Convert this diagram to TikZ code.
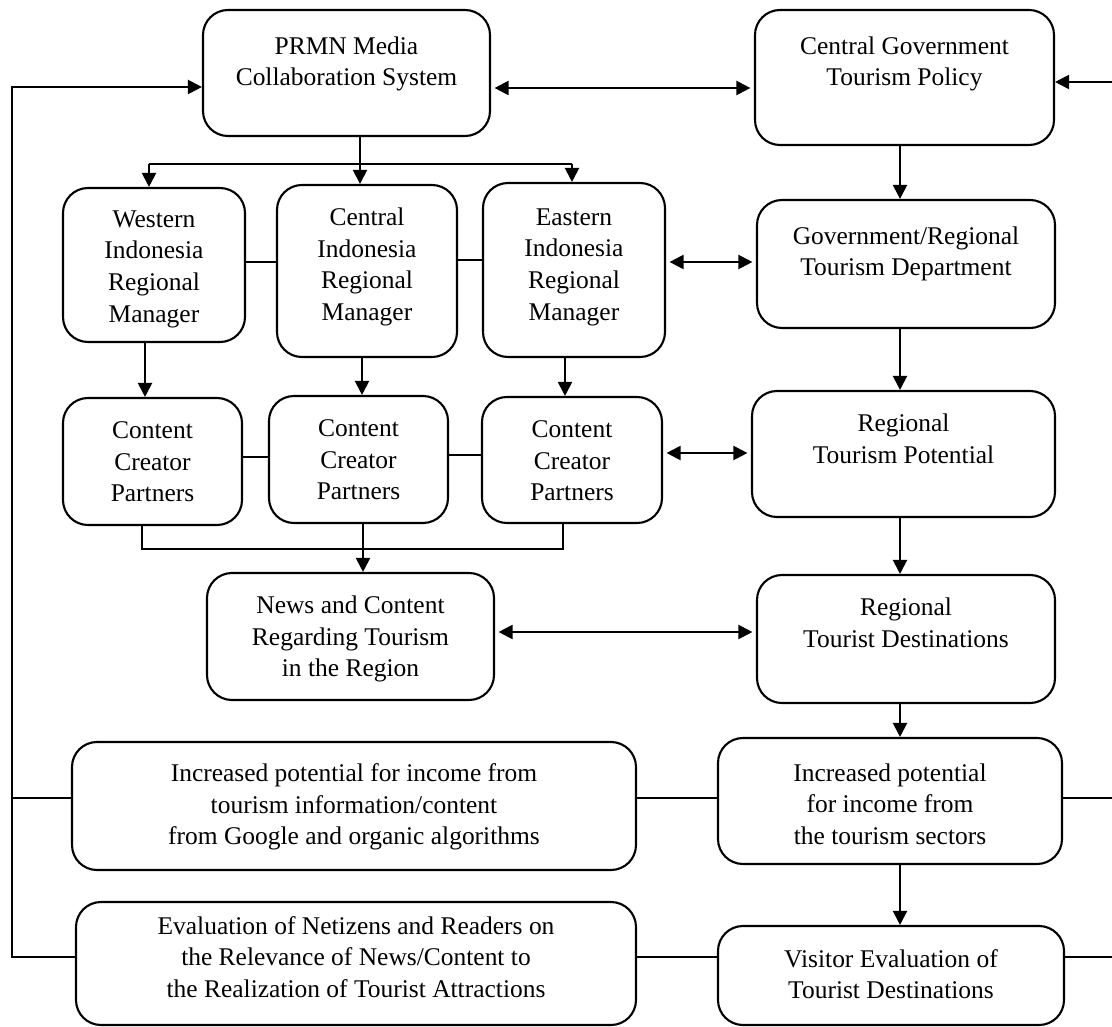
\documentclass[tikz,border=0pt]{standalone}
\usepackage{fontspec}
\setmainfont{Liberation Serif}
\usetikzlibrary{arrows.meta,calc}
\begin{document}
\begin{tikzpicture}[x=0.02cm,y=-0.02cm,
  line width=1.2pt,
  box/.style 2 args={draw,rounded corners=0.5cm,minimum width=#1*0.02cm,minimum height=#2*0.02cm,inner sep=0pt},
  txt/.style={align=center,inner sep=0pt,font=\fontsize{14.5}{18}\selectfont},
  arr/.style={-{Triangle[length=8pt,width=8pt]}},
  dbl/.style={{Triangle[length=8pt,width=8pt]}-{Triangle[length=8pt,width=8pt]},shorten <=2pt,shorten >=2pt}]
\useasboundingbox (0,0) rectangle (1112,1027);
% boxes
\node[box={287}{126}] (prmn) at (346.5,73) {};
\node[txt] (prmnT) at (346.5,64) {PRMN Media\\Collaboration System};
\node[box={299}{135}] (cg) at (904.5,77.5) {};
\node[txt] (cgT) at (904.5,64) {Central Government\\Tourism Policy};
\node[box={182}{154}] (wm) at (154,265) {};
\node[txt] (wmT) at (154,269) {Western\\Indonesia\\Regional\\Manager};
\node[box={180}{172}] (cm) at (367,271) {};
\node[txt] (cmT) at (367,267) {Central\\Indonesia\\Regional\\Manager};
\node[box={182}{174}] (em) at (574,270) {};
\node[txt] (emT) at (574,267) {Eastern\\Indonesia\\Regional\\Manager};
\node[box={298}{128}] (gr) at (906,264) {};
\node[txt] (grT) at (906,254) {Government/Regional\\Tourism Department};
\node[box={179}{127}] (cw) at (152.5,461.5) {};
\node[txt] (cwT) at (152.5,462) {Content\\Creator\\Partners};
\node[box={179}{127}] (cc) at (358.5,459.5) {};
\node[txt] (ccT) at (358.5,460) {Content\\Creator\\Partners};
\node[box={180}{126}] (ce) at (572,460) {};
\node[txt] (ceT) at (572,461) {Content\\Creator\\Partners};
\node[box={303}{126}] (rtp) at (903.5,454) {};
\node[txt] (rtpT) at (903.5,439) {Regional\\Tourism Potential};
\node[box={287}{127}] (nw) at (350.5,636.5) {};
\node[txt] (nwT) at (350.5,639) {News and Content\\Regarding Tourism\\in the Region};
\node[box={298}{128}] (rtd) at (906,639) {};
\node[txt] (rtdT) at (906,623) {Regional\\Tourist Destinations};
\node[box={564}{128}] (ig) at (354,806) {};
\node[txt] (igT) at (354,807) {Increased potential for income from\\tourism information/content\\from Google and organic algorithms};
\node[box={344}{126}] (it) at (890,801) {};
\node[txt] (itT) at (890,804) {Increased potential\\for income from\\the tourism sectors};
\node[box={560}{123}] (ev) at (356,963.5) {};
\node[txt] (evT) at (356,957) {Evaluation of Netizens and Readers on\\the Relevance of News/Content to\\the Realization of Tourist Attractions};
\node[box={346}{99}] (ve) at (891,975.5) {};
\node[txt] (veT) at (891,974) {Visitor Evaluation of\\Tourist Destinations};
% helper coordinates
\coordinate (Y88) at (0,88);
\coordinate (T) at (360,164);
\coordinate (T1) at (149,164);
\coordinate (T2) at (572,164);
\coordinate (Y262) at (0,262);
\coordinate (Y260) at (0,260);
\coordinate (X900) at (900,0);
\coordinate (X145) at (145,0);
\coordinate (X362) at (362,0);
\coordinate (X565) at (565,0);
\coordinate (Y457) at (0,457);
\coordinate (Y455) at (0,455);
\coordinate (Y453) at (0,453);
\coordinate (B1) at (142,549);
\coordinate (B2) at (563,549);
\coordinate (X363) at (363,0);
\coordinate (Y632) at (0,632);
\coordinate (Y798) at (0,798);
\coordinate (Y957) at (0,957);
\coordinate (L1) at (12,957);
\coordinate (L2) at (12,87);
\coordinate (L3) at (12,798);
\coordinate (R1) at (1112,798);
\coordinate (R2) at (1112,957);
\coordinate (R3) at (1112,82);
% connectors
\draw[dbl] (prmn.east |- Y88) -- (cg.west |- Y88);
\draw (prmn.south -| T) -- (T);
\draw (T1) -- (T2);
\draw[arr] (T1) -- (wm.north -| T1);
\draw[arr] (T) -- (cm.north -| T);
\draw[arr] (T2) -- (em.north -| T2);
\draw (wm.east |- Y262) -- (cm.west |- Y262);
\draw (cm.east |- Y260) -- (em.west |- Y260);
\draw[dbl] (em.east |- Y262) -- (gr.west |- Y262);
\draw[arr] (cg.south -| X900) -- (gr.north -| X900);
\draw[arr] (wm.south -| X145) -- (cw.north -| X145);
\draw[arr] (cm.south -| X362) -- (cc.north -| X362);
\draw[arr] (em.south -| X565) -- (ce.north -| X565);
\draw (cw.east |- Y457) -- (cc.west |- Y457);
\draw (cc.east |- Y455) -- (ce.west |- Y455);
\draw[dbl] (ce.east |- Y453) -- (rtp.west |- Y453);
\draw[arr] (gr.south -| X900) -- (rtp.north -| X900);
\draw (cw.south -| B1) -- (B1) -- (B2) -- (ce.south -| B2);
\draw[arr] (cc.south -| X363) -- (nw.north -| X363);
\draw[dbl] (nw.east |- Y632) -- (rtd.west |- Y632);
\draw[arr] (rtp.south -| X900) -- (rtd.north -| X900);
\draw[arr] (rtd.south -| X900) -- (it.north -| X900);
\draw (ig.east |- Y798) -- (it.west |- Y798);
\draw[arr] (it.south -| X900) -- (ve.north -| X900);
\draw (ev.east |- Y957) -- (ve.west |- Y957);
\draw[arr] (ev.west |- L1) -- (L1) -- (L2) -- (prmn.west |- L2);
\draw (ig.west |- L3) -- (L3);
\draw (it.east |- R1) -- (R1);
\draw (ve.east |- R2) -- (R2);
\draw[arr] (R3) -- (cg.east |- R3);
\end{tikzpicture}
\end{document}
